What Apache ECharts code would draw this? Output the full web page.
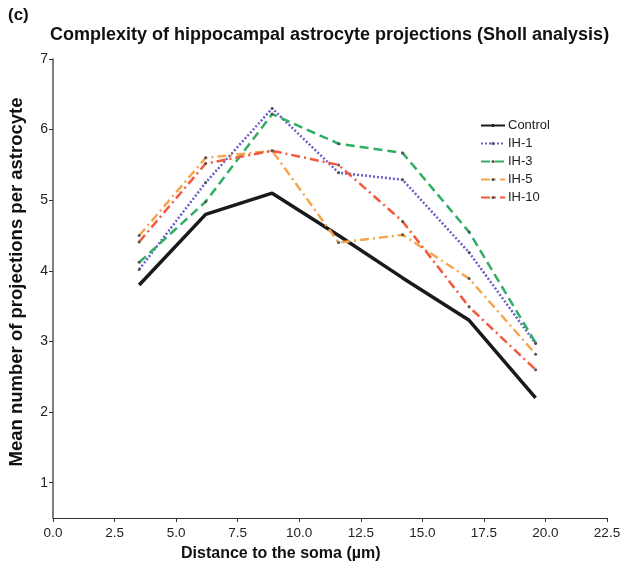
<!DOCTYPE html>
<html><head><meta charset="utf-8">
<script src="https://cdn.jsdelivr.net/npm/echarts@6/dist/echarts.min.js"></script>
<style>html,body{margin:0;padding:0;background:#fff}#c{width:622px;height:568px}</style>
</head><body><div id="c"></div>
<script>
const distances = [3.5, 6.2, 8.9, 11.6, 14.2, 16.9, 19.6];
const control = [3.8, 4.8, 5.1, 4.5, 3.9, 3.3, 2.2];
const ih1 = [4.02, 5.25, 6.3, 5.39, 5.29, 4.26, 2.97];
const ih3 = [4.12, 4.98, 6.22, 5.8, 5.67, 4.55, 2.98];
const ih5 = [4.5, 5.6, 5.7, 4.4, 4.51, 3.89, 2.82];
const ih10 = [4.41, 5.52, 5.7, 5.5, 4.7, 3.49, 2.6];
const yTicks = [1, 2, 3, 4, 5, 6, 7];
const seriesNames = ['Control', 'IH-1', 'IH-3', 'IH-5', 'IH-10'];

const pts = arr => distances.map((d, i) => [d, arr[i]]);
const font = 'Liberation Sans, Arial, sans-serif';

function mk(name, data, color, width, type, showSym) {
  return {
    name, type: 'line', data: pts(data),
    symbol: 'circle', symbolSize: showSym ? 3 : 0, showSymbol: showSym,
    itemStyle: { color: showSym ? '#555' : color },
    lineStyle: { color, width, type },
    z: name === 'Control' ? 1 : 2
  };
}

const chart = echarts.init(document.getElementById('c'));
chart.setOption({
  animation: false,
  textStyle: { fontFamily: font },
  graphic: [
    { type: 'text', left: 8, top: 7, style: { text: '(c)', font: 'bold 17px ' + font, fill: '#111' } },
    { type: 'text', left: 50, top: 26, style: { text: 'Complexity of hippocampal astrocyte projections (Sholl analysis)', font: 'bold 18px ' + font, fill: '#111' } },
    { type: 'text', left: 181, top: 546, style: { text: 'Distance to the soma (µm)', font: 'bold 16px ' + font, fill: '#111' } },
    { type: 'text', x: 17, y: 282, rotation: Math.PI / 2, style: { text: 'Mean number of projections per astrocyte', font: 'bold 18.5px ' + font, fill: '#111', align: 'center', verticalAlign: 'middle' } }
  ],
  grid: { left: 53, top: 59, right: 15, bottom: 50, containLabel: false, outerBoundsMode: 'none' },
  legend: {
    data: seriesNames,
    orient: 'vertical', left: 475, top: 114,
    itemWidth: 24, itemHeight: 4, itemGap: 5,
    textStyle: { fontSize: 13, color: '#222', fontFamily: font, padding: [0, 0, 0, -2] }
  },
  xAxis: {
    type: 'value', min: 0, max: 22.5, interval: 2.5,
    axisLine: { show: true, lineStyle: { color: '#333', width: 1 } },
    axisTick: { show: true, length: 4, lineStyle: { color: '#333' } },
    axisLabel: { fontSize: 13.5, color: '#222', margin: 8, formatter: v => v.toFixed(1) },
    splitLine: { show: false }
  },
  yAxis: {
    type: 'value', min: 0.5, max: 7,
    axisLine: { show: true, lineStyle: { color: '#555', width: 1.5 } },
    axisTick: { show: true, length: 4, customValues: yTicks, lineStyle: { color: '#333' } },
    axisLabel: { fontSize: 14, color: '#222', margin: 5, customValues: yTicks },
    splitLine: { show: false }
  },
  series: [
    mk('Control', control, '#1a1a1a', 3.5, 'solid', false),
    mk('IH-1', ih1, '#6a5fc8', 2.5, [2, 2], true),
    mk('IH-3', ih3, '#2fae64', 2.5, [9, 5], true),
    mk('IH-5', ih5, '#f5a54a', 2.5, [9, 4, 2, 4], true),
    mk('IH-10', ih10, '#f2583c', 2.5, [9, 4, 2, 4], true)
  ]
});
</script></body></html>
